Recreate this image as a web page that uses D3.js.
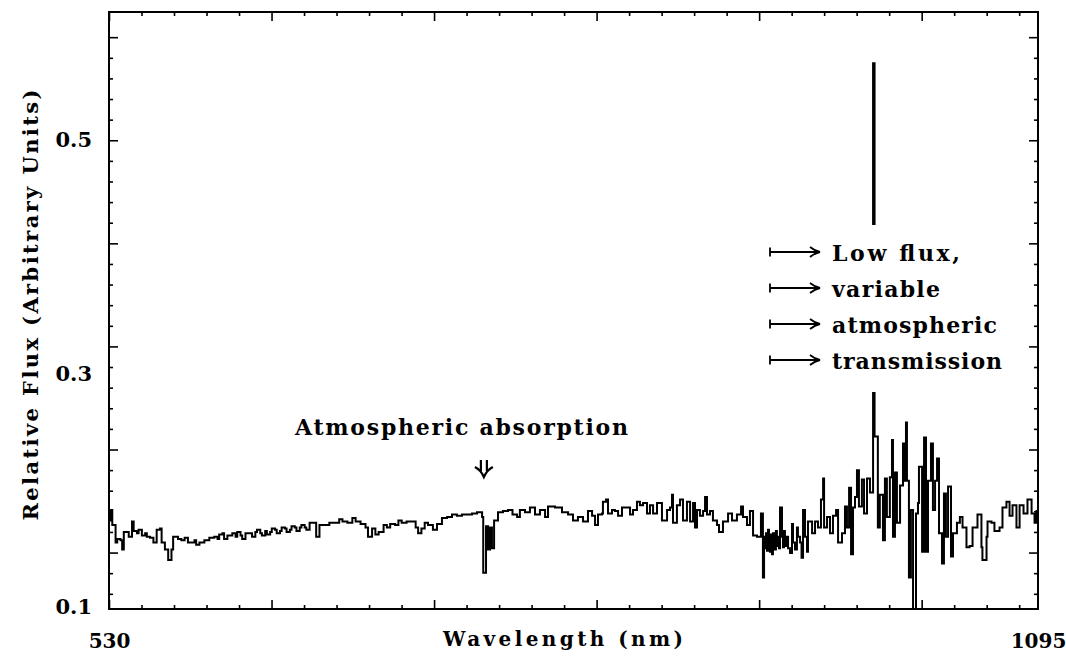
<!DOCTYPE html>
<html>
<head>
<meta charset="utf-8">
<script src="https://cdn.jsdelivr.net/npm/d3@7"></script>
<style>
  body { margin: 0; background: #fff; }
  svg text { font-family: "DejaVu Serif", serif; font-weight: bold; fill: #000; }
</style>
</head>
<body>
<svg id="chart" width="1066" height="656"></svg>
<script>
// spectrum (wavelength in nm, relative flux)
const wave = [
  530, 531, 532, 534, 535, 537, 538, 539, 542, 544, 545, 547, 548, 550, 552, 553, 555, 557, 559, 561,
  562, 564, 566, 568, 569, 572, 574, 576, 578, 580, 582, 583, 585, 588, 591, 594, 596, 597, 599, 600,
  602, 605, 607, 608, 610, 611, 613, 616, 617, 619, 620, 622, 623, 625, 626, 628, 629, 631, 632, 634,
  635, 637, 638, 640, 641, 643, 644, 646, 647, 649, 650, 652, 654, 656, 658, 661, 664,
  667, 670, 672, 675, 678, 680, 683, 686, 687.5, 690, 692, 694, 697, 699, 701, 704, 706, 708, 711, 715,
  716.5, 718, 720, 722, 724, 727, 729.5, 732.5, 735.6, 738.6, 741.6, 744.7, 747.7, 750.8, 753.8, 756.9,
  757.6, 759.3, 760.5, 761.7, 762.9, 764.2, 766.6, 769.6, 772.7, 775.4, 778.2, 779.9, 783, 786, 789.1,
  792.1, 795.2, 797, 801.3, 805.5, 809.2,
  810.4, 812.2, 815.2, 818.3, 821.3, 823.8, 825.6, 827.4, 829.8, 830.4, 832.3, 833.5, 835.9, 837.7,
  839.6, 842, 845, 846.9, 848.7, 851.1, 852.9, 854.8, 857.2, 859, 860.9, 863.3, 866.3, 869.4, 871.2,
  872.4, 873, 875.4, 877.3, 879.1, 881.5, 883.4, 885.2, 886.4, 887.6, 889.4, 891.3, 892.5, 893.7, 895.5,
  897.3, 899.8, 901, 903.4, 906.5, 908.9, 911.9, 914.4, 915.6, 918, 919.8, 921.7, 924.1, 926.5,
  927.7, 928.4, 929, 929.6, 930.2, 930.8, 931.4, 932, 932.6, 933.2, 933.8, 934.4, 935, 935.6, 936.2,
  936.9, 937.5, 938.1, 939.3, 939.9, 940.5, 941.1, 942.3, 943, 944.2, 945.4, 946, 947.2, 948.4, 949,
  950.3, 951.2, 952.1, 953.3, 954.5, 955.1, 957.6, 959.4, 961.2, 963, 964.3, 964.9, 966.7, 968.5,
  970.3, 972.2, 973.4, 975.8, 977.6, 978.8, 980.1, 981.3, 982.5, 983.7, 984.9, 986.1, 987.9, 989.2,
  991, 992.8, 994.7, 995.6, 996.3, 997.6, 998.8, 1000.7, 1001.9, 1003.1, 1004.9, 1006.2, 1006.8, 1008, 1009.2,
  1011.1, 1012.9, 1013.5, 1014.7, 1015.3, 1016.5, 1017.7, 1019, 1020.8, 1022, 1022.6, 1024.5, 1025.7,
  1026.9, 1028.1, 1029.9, 1031.1, 1032.4, 1033.6, 1034.8, 1036.6, 1037.8, 1039, 1040.3, 1042.1, 1043.3,
  1045.7, 1047.5, 1049.1, 1051.5, 1053.4, 1055.2, 1058.2, 1060.6, 1061.2, 1063.7, 1064.3, 1066.7,
  1068.5, 1071.6, 1073.4, 1075.8, 1077.7, 1079.5, 1081.9, 1083.8, 1086.2, 1088.6, 1091.1, 1092.9, 1094.1
];
const flux = [
  0.174, 0.183, 0.170, 0.155, 0.158, 0.157, 0.149, 0.164, 0.160, 0.173, 0.165, 0.163, 0.166, 0.161, 0.163, 0.160, 0.159, 0.155, 0.166, 0.167,
  0.155, 0.149, 0.140, 0.149, 0.160, 0.158, 0.157, 0.159, 0.155, 0.155, 0.157, 0.153, 0.155, 0.157, 0.159, 0.160, 0.158, 0.162, 0.163, 0.158,
  0.161, 0.163, 0.160, 0.164, 0.161, 0.158, 0.163, 0.163, 0.160, 0.164, 0.166, 0.163, 0.161, 0.165, 0.162, 0.164, 0.167, 0.166, 0.163, 0.165,
  0.168, 0.167, 0.164, 0.166, 0.169, 0.168, 0.165, 0.168, 0.170, 0.168, 0.166, 0.172, 0.172, 0.160, 0.170, 0.170, 0.172,
  0.172, 0.175, 0.173, 0.172, 0.176, 0.173, 0.171, 0.168, 0.160, 0.167, 0.162, 0.164, 0.170, 0.168, 0.171, 0.170, 0.174, 0.172, 0.173, 0.173,
  0.168, 0.163, 0.167, 0.172, 0.170, 0.166, 0.171, 0.176, 0.177, 0.179, 0.178, 0.179, 0.179, 0.180, 0.181, 0.177,
  0.129, 0.169, 0.149, 0.168, 0.150, 0.174, 0.181, 0.182, 0.183, 0.179, 0.177, 0.183, 0.181, 0.185, 0.179,
  0.183, 0.177, 0.186, 0.185, 0.181, 0.179,
  0.179, 0.174, 0.177, 0.173, 0.182, 0.178, 0.170, 0.179, 0.180, 0.190, 0.192, 0.180, 0.183, 0.182,
  0.178, 0.185, 0.185, 0.179, 0.183, 0.190, 0.187, 0.189, 0.180, 0.187, 0.180, 0.189, 0.174, 0.183, 0.185,
  0.196, 0.172, 0.187, 0.192, 0.174, 0.190, 0.173, 0.189, 0.168, 0.183, 0.178, 0.182, 0.194, 0.179, 0.182,
  0.174, 0.170, 0.164, 0.173, 0.180, 0.174, 0.179, 0.186, 0.177, 0.170, 0.182, 0.161, 0.160, 0.180,
  0.125, 0.160, 0.150, 0.163, 0.148, 0.166, 0.150, 0.147, 0.162, 0.145, 0.163, 0.150, 0.149, 0.165, 0.152,
  0.160, 0.150, 0.185, 0.160, 0.151, 0.165, 0.152, 0.160, 0.150, 0.146, 0.171, 0.155, 0.149, 0.168, 0.160,
  0.155, 0.142, 0.183, 0.160, 0.147, 0.173, 0.163, 0.173, 0.168, 0.192, 0.210, 0.168, 0.177, 0.163,
  0.178, 0.183, 0.155, 0.163, 0.186, 0.168, 0.202, 0.145, 0.185, 0.194, 0.217, 0.186, 0.209, 0.180,
  0.210, 0.198, 0.566, 0.246, 0.246, 0.168, 0.196, 0.157, 0.210, 0.177, 0.211, 0.243, 0.160, 0.215, 0.172,
  0.204, 0.240, 0.208, 0.258, 0.208, 0.125, 0.183, 0.090, 0.180, 0.189, 0.220, 0.147, 0.245,
  0.147, 0.208, 0.240, 0.183, 0.208, 0.227, 0.163, 0.137, 0.197, 0.160, 0.203, 0.143, 0.163,
  0.172, 0.177, 0.168, 0.151, 0.152, 0.168, 0.179, 0.151, 0.140, 0.160, 0.173, 0.172,
  0.165, 0.168, 0.185, 0.190, 0.178, 0.187, 0.168, 0.187, 0.180, 0.192, 0.180, 0.172, 0.183
];
const yTickLabels = [0.1, 0.3, 0.5];
const xEndLabels = [530, 1095];
const noteLines = ["Low flux,", "variable", "atmospheric", "transmission"];
const absorptionNote = "Atmospheric absorption";
const absorptionAt = 758;

const svg = d3.select("#chart"),
    margin = {top: 12, right: 28, bottom: 47, left: 109},
    width = +svg.attr("width") - margin.left - margin.right,
    height = +svg.attr("height") - margin.top - margin.bottom;

const g = svg.append("g").attr("transform", "translate(" + margin.left + "," + margin.top + ")");

const x = d3.scaleLinear().domain([530, 1095]).range([0, width]),
    y = d3.scaleLinear().domain([0.098, 0.610]).range([height, 0]);

// tick marks of the frame, spacing as printed on the original plot
const xStep = 19.77, yStep = 0.01768;
const xTicks = d3.range(0, 29).map(i => ({v: 530 + i * xStep, major: i % 5 === 0}));
const yTicks = d3.range(-22, 6).map(k => ({v: 0.5 + k * yStep, major: k % 5 === 0}));

function tickSet(axis, vals, len, transform) {
    g.append("g")
        .attr("transform", transform)
        .call(axis.tickValues(vals).tickSize(-len).tickFormat(""))
        .call(s => s.select(".domain").remove())
        .selectAll("line").attr("stroke-width", 1.6);
}
[true, false].forEach(function(m) {
    let xv = xTicks.filter(d => d.major === m).map(d => d.v);
    let yv = yTicks.filter(d => d.major === m).map(d => d.v);
    let len = m ? 9 : 4;
    tickSet(d3.axisBottom(x), xv, len, "translate(0," + height + ")");
    tickSet(d3.axisTop(x), xv, len, "translate(0,0)");
    tickSet(d3.axisLeft(y), yv, len, "translate(0,0)");
    tickSet(d3.axisRight(y), yv, len, "translate(" + width + ",0)");
});

g.append("rect")
    .attr("width", width).attr("height", height)
    .attr("fill", "none").attr("stroke", "#000").attr("stroke-width", 2);

// tick labels
g.append("g")
    .call(d3.axisLeft(y).tickValues(yTickLabels).tickSize(0).tickPadding(17).tickFormat(d3.format(".1f")))
    .call(s => s.select(".domain").remove())
    .selectAll("text").style("font-size", "21px");

g.append("g")
    .attr("transform", "translate(0," + height + ")")
    .call(d3.axisBottom(x).tickValues(xEndLabels).tickSize(0).tickPadding(25).tickFormat(d3.format("d")))
    .call(s => s.select(".domain").remove())
    .selectAll("text").style("font-size", "20px");

// axis titles
svg.append("text")
    .attr("x", 563).attr("y", 646)
    .attr("text-anchor", "middle")
    .attr("textLength", 240).attr("lengthAdjust", "spacing")
    .style("font-size", "20px")
    .text("Wavelength (nm)");

svg.append("text")
    .attr("transform", "translate(38,305) rotate(-90)")
    .attr("text-anchor", "middle")
    .attr("textLength", 431).attr("lengthAdjust", "spacing")
    .style("font-size", "21px")
    .text("Relative Flux (Arbitrary Units)");

// spectrum
svg.append("clipPath").attr("id", "plotArea")
    .append("rect").attr("width", width).attr("height", height);

const spectrum = wave.map((w, i) => [w, flux[i]]);
const line = d3.line()
    .x(d => x(d[0]))
    .y(d => y(d[1]))
    .curve(d3.curveStepAfter);

g.append("path")
    .datum(spectrum)
    .attr("clip-path", "url(#plotArea)")
    .attr("d", line)
    .attr("fill", "none")
    .attr("stroke", "#000")
    .attr("stroke-width", 2);

// note box on the right (covers the line behind the text)
const note = g.append("g").attr("transform", "translate(" + (770 - margin.left) + ",0)");
note.append("rect")
    .attr("x", -8).attr("y", 225 - margin.top)
    .attr("width", 245).attr("height", 392 - 225)
    .attr("fill", "#fff");

const rowY = d3.scalePoint().domain(noteLines).range([252 - margin.top, 360 - margin.top]);
const rows = note.selectAll(".row").data(noteLines).enter().append("g")
    .attr("class", "row")
    .attr("transform", d => "translate(0," + rowY(d) + ")");
rows.append("path")
    .attr("d", "M0,-4.5V4.5M0,0H48M40,-5Q45,-1 50,0Q45,1 40,5")
    .attr("fill", "none").attr("stroke", "#000").attr("stroke-width", 1.8);
rows.append("text")
    .attr("x", 62).attr("y", 9)
    .style("font-size", "22px")
    .attr("lengthAdjust", "spacing")
    .attr("textLength", (d, i) => [128, 108, 165, 170][i])
    .text(d => d);

// absorption label with its double arrow
const ax = x(absorptionAt);
g.append("text")
    .attr("x", 295 - margin.left).attr("y", 435 - margin.top)
    .attr("textLength", 333).attr("lengthAdjust", "spacing")
    .style("font-size", "22px")
    .text(absorptionNote);
const t = 460 - margin.top;
g.append("path")
    .attr("d", "M" + (ax - 3) + "," + t + "V" + (t + 11) +
        "M" + (ax + 3) + "," + t + "V" + (t + 11) +
        "M" + (ax - 9) + "," + (t + 7) + "Q" + (ax - 3) + "," + (t + 10) + " " + ax + "," + (t + 17) +
        "Q" + (ax + 3) + "," + (t + 10) + " " + (ax + 9) + "," + (t + 7))
    .attr("fill", "none").attr("stroke", "#000").attr("stroke-width", 2.2);
</script>
</body>
</html>
